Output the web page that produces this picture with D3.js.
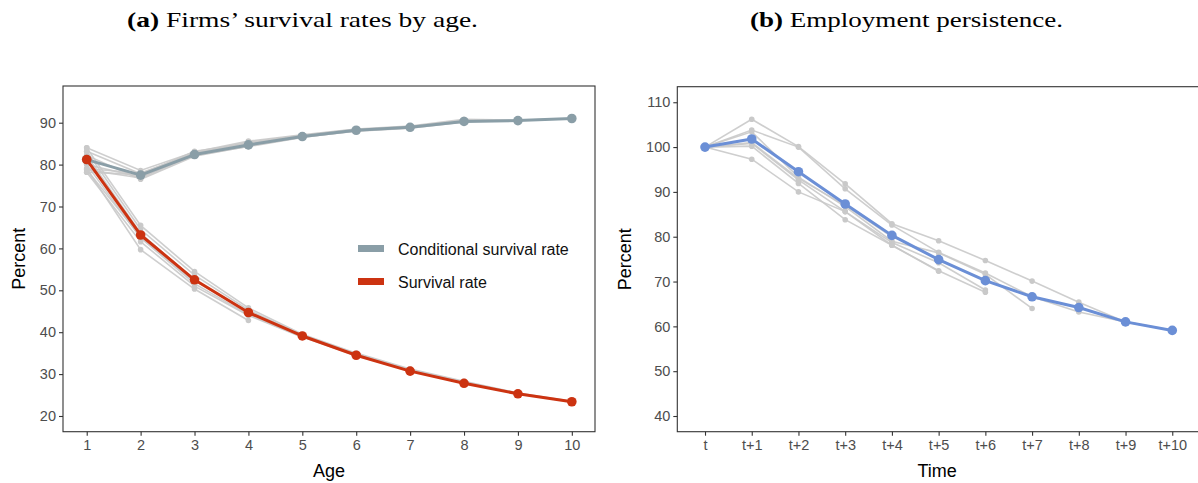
<!DOCTYPE html>
<html><head><meta charset="utf-8">
<script src="https://cdn.jsdelivr.net/npm/d3@7"></script>
<style>body{margin:0;background:#fff}svg{display:block}</style>
</head><body>
<svg id="c" width="1198" height="483"></svg>
<script>
// ---------- Data ----------
const ages = [1,2,3,4,5,6,7,8,9,10];
const conditionalRate = [81.2,77.5,82.4,84.7,86.7,88.2,88.9,90.3,90.5,91.0];
const survivalRate    = [81.2,63.2,52.5,44.7,39.1,34.5,30.7,27.8,25.3,23.4];
// cohort lines (grey, background), variable length
const conditionalCohorts = [
  [84.0,78.6,83.0,85.6,87.1,88.5,89.2,90.8,90.6,91.0],
  [83.2,77.8,82.8,85.1,86.9,88.3,89.0,90.5,90.5],
  [82.2,76.5,82.0,84.4,86.6,88.0,88.7,90.2],
  [80.0,77.0,82.2,84.3,86.5,88.1,88.8],
  [79.0,78.0,82.7,85.3,87.0,88.4],
  [78.2,77.6,83.2,85.0,86.8],
  [78.8,76.8,82.4,84.6]
];
const survivalCohorts = [
  [84.0,65.5,54.5,45.8,39.5,35.0,31.2,28.3,25.5,23.5],
  [83.2,64.5,53.6,45.3,39.3,34.8,31.0,28.1,25.4],
  [82.2,63.6,52.4,44.9,39.0,34.5,30.9,28.0],
  [80.0,62.5,51.6,44.2,38.9,34.4,30.8],
  [79.0,59.7,50.3,42.8],
  [78.2,61.6,51.0,44.0,38.8],
  [78.8,62.8,52.0]
];
const timeLabels = ["t","t+1","t+2","t+3","t+4","t+5","t+6","t+7","t+8","t+9","t+10"];
const employment = [100,101.8,94.5,87.3,80.3,74.9,70.2,66.6,64.2,61.0,59.1];
const employmentCohorts = [
  [100,106.2,100.1,91.8,82.9,79.1,74.7,70.1,65.4,61.0,59.1],
  [100,103.8,100.0,90.7,82.6,76.5,71.9,66.6,63.2,61.0],
  [100,103.4,93.3,86.7,79.0,76.4,71.6,64.0],
  [100,100.8,92.7,85.6,78.7,74.2,68.1],
  [100,100.2,91.9,83.8,78.1,72.4,67.6],
  [100,97.3,90.0,85.6,78.1,72.3],
  [100,101.0,93.0,87.0,80.0]
];
const yTicksA = [20,30,40,50,60,70,80,90];
const yTicksB = [40,50,60,70,80,90,100,110];
const legendLabels = ["Conditional survival rate","Survival rate"];

// ---------- Styling ----------
const COL_COND = "#8a9ea7", COL_SURV = "#cc3311", COL_EMP = "#6b8fd6", COL_GREY = "#c9c9c9";
const svg = d3.select("#c");
const FONT = "Liberation Sans, Arial, sans-serif";

function panel(opts){
  const {x, y, left, right, top, bottom} = opts;
  const g = svg.append("g");
  const line = d3.line().x((d,i)=>x(opts.xv[i])).y(d=>y(d));
  opts.greys.forEach(arr=>{
    arr.forEach(c=>{
      g.append("path").datum(c).attr("d",line).attr("fill","none")
        .attr("stroke",COL_GREY).attr("stroke-width",1.6).attr("opacity",0.9);
      g.selectAll(null).data(c).enter().append("circle")
        .attr("cx",(d,i)=>x(opts.xv[i])).attr("cy",d=>y(d)).attr("r",2.8).attr("fill",COL_GREY);
    });
  });
  opts.mains.forEach(m=>{
    g.append("path").datum(m.v).attr("d",line).attr("fill","none")
      .attr("stroke",m.c).attr("stroke-width",3).attr("stroke-linejoin","round");
    g.selectAll(null).data(m.v).enter().append("circle")
      .attr("cx",(d,i)=>x(opts.xv[i])).attr("cy",d=>y(d)).attr("r",4.8).attr("fill",m.c);
  });
  g.append("rect").attr("x",left).attr("y",top).attr("width",right-left).attr("height",bottom-top)
    .attr("fill","none").attr("stroke","#333").attr("stroke-width",1.1);
  const ya = g.append("g").attr("transform",`translate(${left},0)`)
    .call(d3.axisLeft(y).tickValues(opts.yTicks).tickSize(4).tickPadding(3));
  ya.select(".domain").remove();
  const xa = g.append("g").attr("transform",`translate(0,${bottom})`)
    .call(d3.axisBottom(x).tickValues(opts.xv).tickFormat(opts.xfmt).tickSize(4).tickPadding(4));
  xa.select(".domain").remove();
  [ya,xa].forEach(a=>{
    a.selectAll("text").attr("font-family",FONT).attr("font-size",14.5).attr("fill","#4d4d4d");
    a.selectAll("line").attr("stroke","#333").attr("stroke-width",1.1);
  });
  g.append("text").attr("x",(left+opts.titleRight)/2).attr("y",477).attr("text-anchor","middle")
    .attr("font-family",FONT).attr("font-size",18).text(opts.xTitle);
  g.append("text").attr("transform",`translate(${opts.ylabX},${(top+bottom)/2}) rotate(-90)`)
    .attr("text-anchor","middle").attr("font-family",FONT).attr("font-size",18).text("Percent");
  const t = g.append("text").attr("x",opts.cx).attr("y",27).attr("text-anchor","middle")
    .attr("font-family","Liberation Serif, DejaVu Serif, serif").attr("font-size",22)
    .attr("textLength",opts.titleLen).attr("lengthAdjust","spacingAndGlyphs");
  t.append("tspan").attr("font-weight","bold").text(opts.tag);
  t.append("tspan").text(" " + opts.title);
  return g;
}

// Panel A
const xA = d3.scaleLinear().domain([0.56,10.43]).range([63,595]);
const yA = d3.scaleLinear().domain([16.25,98.76]).range([431.7,86]);
panel({x:xA, y:yA, left:63, right:595, top:86, bottom:431.7, titleRight:595,
  xv:ages, xfmt:d=>d, yTicks:yTicksA,
  greys:[conditionalCohorts, survivalCohorts],
  mains:[{v:conditionalRate,c:COL_COND},{v:survivalRate,c:COL_SURV}],
  xTitle:"Age", ylabX:25, cx:302.5, titleLen:351, tag:"(a)", title:"Firms’ survival rates by age."});

// legend
const lg = svg.append("g");
[COL_COND, COL_SURV].forEach((c,i)=>{
  lg.append("rect").attr("x",358).attr("y",245+i*33).attr("width",26).attr("height",7).attr("fill",c);
  lg.append("text").attr("x",398).attr("y",254.5+i*33).attr("font-family",FONT).attr("font-size",16)
    .attr("fill","#111").text(legendLabels[i]);
});

// Panel B
const idx = timeLabels.map((d,i)=>i);
const xB = d3.scaleLinear().domain([-0.593,10.6]).range([677.3,1200.3]);
const yB = d3.scaleLinear().domain([36.5,113.47]).range([431.7,86.7]);
panel({x:xB, y:yB, left:677.3, right:1200.3, top:86.7, bottom:431.7, titleRight:1197,
  xv:idx, xfmt:i=>timeLabels[i], yTicks:yTicksB,
  greys:[employmentCohorts],
  mains:[{v:employment,c:COL_EMP}],
  xTitle:"Time", ylabX:631, cx:906.5, titleLen:313, tag:"(b)", title:"Employment persistence."});
</script>
</body></html>
